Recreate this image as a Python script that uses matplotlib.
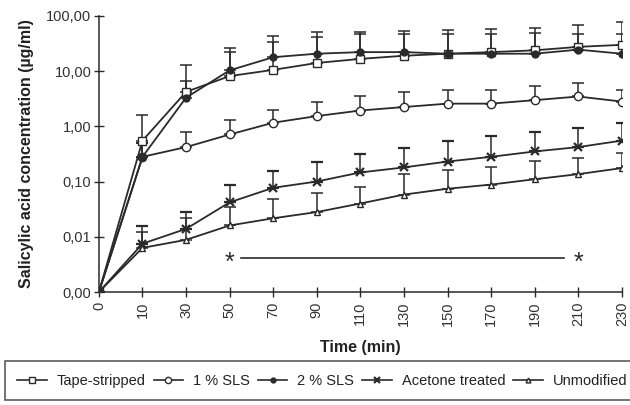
import matplotlib.pyplot as plt
from matplotlib.lines import Line2D
import numpy as np

plt.rcParams['font.family'] = ['Liberation Sans', 'DejaVu Sans']

# categories on the time axis (equally spaced)
times = ["0", "10", "30", "50", "70", "90", "110", "130", "150", "170", "190", "210", "230"]

# mean concentrations (ug/ml); 0,00 is drawn at the axis floor 0.001
tape = [0.001, 0.55, 4.2, 8.1, 10.5, 14.0, 16.6, 18.9, 20.6, 22.0, 23.7, 27.4, 29.8]
sls1 = [0.001, 0.28, 0.42, 0.71, 1.16, 1.53, 1.93, 2.23, 2.57, 2.57, 2.97, 3.46, 2.8]
sls2 = [0.001, 0.28, 3.3, 10.3, 17.8, 20.6, 22.0, 22.0, 20.6, 20.6, 20.6, 24.4, 20.6]
acetone = [0.001, 0.0075, 0.0139, 0.042, 0.077, 0.10, 0.146, 0.18, 0.23, 0.28, 0.35, 0.42, 0.55]
unmod = [0.001, 0.0063, 0.0088, 0.016, 0.0216, 0.028, 0.040, 0.058, 0.074, 0.088, 0.11, 0.136, 0.175]

# top of the (upper only) error bars
tape_top = [0.001, 1.6, 13.0, 22.0, 34.0, 41.0, 47.0, 47.0, 47.0, 47.0, 49.0, 47.0, 47.0]
sls1_top = [0.001, 0.5, 0.8, 1.28, 2.0, 2.8, 3.6, 4.1, 4.5, 4.5, 5.4, 6.2, 4.5]
sls2_top = [0.001, 0.5, 6.7, 26.0, 43.0, 50.0, 50.0, 54.0, 55.0, 58.0, 60.0, 69.0, 77.0]
acetone_top = [0.001, 0.0155, 0.028, 0.085, 0.155, 0.23, 0.31, 0.41, 0.55, 0.66, 0.78, 0.94, 1.15]
unmod_top = [0.001, 0.012, 0.022, 0.035, 0.049, 0.062, 0.08, 0.136, 0.16, 0.185, 0.24, 0.27, 0.33]

col = "#2a2a2a"
series = [
    ("Tape-stripped", tape, tape_top, dict(marker="s", ms=6, mfc="white")),
    ("1 % SLS", sls1, sls1_top, dict(marker="o", ms=6, mfc="white")),
    ("2 % SLS", sls2, sls2_top, dict(marker="o", ms=5, mfc=col)),
    ("Acetone treated", acetone, acetone_top, dict(marker="x", ms=6, mew=1.6)),
    ("Unmodified", unmod, unmod_top, dict(marker="^", ms=5, mfc="white")),
]

fig = plt.figure(figsize=(6.3, 4.05), dpi=100)
ax = fig.add_axes([0.157, 0.279, 0.83, 0.682])

x = np.arange(len(times))
handles = []
for name, vals, tops, style in series:
    vals = np.array(vals)
    up = np.array(tops) - vals
    ax.errorbar(x, vals, yerr=[np.zeros_like(vals), up], color=col, lw=1.3,
                elinewidth=1.1, capsize=4, capthick=1.1, mec=col, **style)
    hs = dict(style)
    hs["ms"] = hs["ms"] - 1.5
    handles.append(Line2D([], [], color=col, lw=1.2, mec=col, label=name, **hs))

ax.set_yscale("log")
ax.set_ylim(0.001, 100)
ax.set_xlim(0, len(times) - 1)
ax.set_yticks([0.001, 0.01, 0.1, 1, 10, 100])
ax.set_yticklabels(["0,00", "0,01", "0,10", "1,00", "10,00", "100,00"])
ax.minorticks_off()
ax.set_xticks(x)
ax.set_xticklabels(times, rotation=90)
ax.tick_params(direction="inout", length=7, width=1, colors=col, labelsize=10.5,
               labelcolor="#333333")
ax.tick_params(axis="y", pad=2)
for s in ["top", "right"]:
    ax.spines[s].set_visible(False)
for s in ["left", "bottom"]:
    ax.spines[s].set_color(col)
    ax.spines[s].set_linewidth(1.1)

ax.set_xlabel("Time (min)", fontsize=11.5, fontweight="bold", color="#222222", labelpad=10)
ax.set_ylabel("Salicylic acid concentration (µg/ml)", fontsize=11.5, fontweight="bold",
              color="#222222", labelpad=9)

# significance bar
ax.plot([3.25, 10.67], [0.0042, 0.0042], color=col, lw=1.2)
ax.text(3, 0.0034, "*", fontsize=18, ha="center", va="center", color=col)
ax.text(11, 0.0034, "*", fontsize=18, ha="center", va="center", color=col)

leg = fig.legend(handles=handles, loc="lower left", bbox_to_anchor=(0.008, 0.012), ncol=5,
                 fontsize=10.5, frameon=True, fancybox=False, edgecolor="#333333",
                 handlelength=2.0, handletextpad=0.7, columnspacing=0.55, borderpad=0.85,
                 borderaxespad=0)
leg.get_frame().set_linewidth(1.2)
for t in leg.get_texts():
    t.set_color("#222222")

fig.savefig("out.png", dpi=100)
